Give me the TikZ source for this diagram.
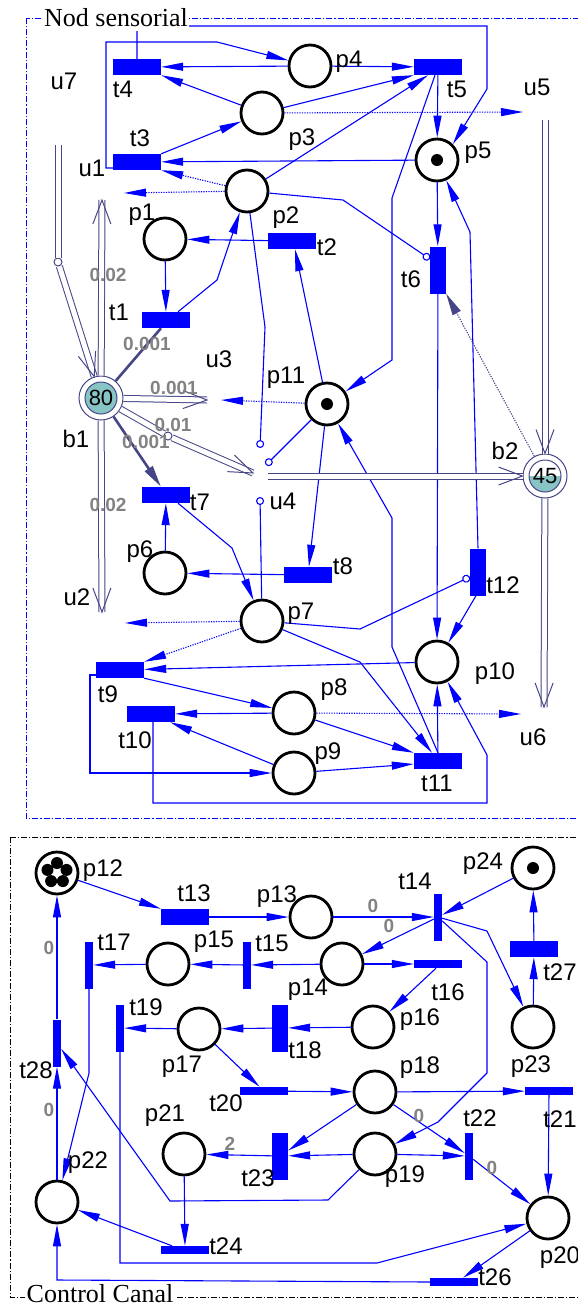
\documentclass[tikz,border=0pt]{standalone}
\usepackage{fontspec}
\setmainfont{Liberation Serif}
\setsansfont{Liberation Sans}
\usepackage{xcolor}
\usetikzlibrary{arrows.meta,calc,positioning,decorations.markings}

\definecolor{slate}{RGB}{70,70,135}
\definecolor{level}{RGB}{136,196,196}
\definecolor{wgray}{RGB}{130,130,130}

\newcommand{\lblfont}{\sffamily\fontsize{24}{24}\selectfont}
\newcommand{\wfont}{\sffamily\bfseries\fontsize{19}{19}\selectfont}
\newcommand{\titlefont}{\rmfamily\fontsize{26}{26}\selectfont}

\tikzset{
  place/.style={circle, draw=black, line width=2.8pt, minimum size=42pt, inner sep=0pt},
  token/.style={circle, fill=black, minimum size=12pt, inner sep=0pt},
  trh/.style={rectangle, fill=blue, minimum width=48pt, minimum height=16pt, inner sep=0pt},
  trv/.style={rectangle, fill=blue, minimum width=16pt, minimum height=47pt, inner sep=0pt},
  trhs/.style={rectangle, fill=blue, minimum width=48pt, minimum height=8pt, inner sep=0pt},
  trvs/.style={rectangle, fill=blue, minimum width=8pt, minimum height=47pt, inner sep=0pt},
  lbl/.style={font=\lblfont, inner sep=0pt},
  wgt/.style={font=\wfont, text=wgray, inner sep=0pt},
  parc/.style={blue, line width=1.1pt, -{Triangle[length=22pt, width=8pt]}},
  dots/.style={parc, dash pattern=on 1.2pt off 1.3pt},
  inh/.style={blue, line width=1.1pt, -{Circle[open, length=8pt, width=8pt, fill=white]}},
  flow/.style={slate, line width=2.6pt},
  cont/.style={draw=slate, double=white, double distance=5pt, line width=1pt},
  barb/.style={cont, postaction={decorate, decoration={markings,
      mark=at position 1 with {\draw[slate, line width=1pt] (-24pt,9pt) -- (0pt,0pt) -- (-24pt,-9pt);}}}},
  kink/.style={circle, draw=slate, fill=white, line width=1pt, minimum size=8pt, inner sep=0pt},
  buf/.style={circle, draw=slate, line width=1pt, minimum size=44pt, inner sep=0pt,
      font=\sffamily\fontsize{22}{22}\selectfont},
  fullbuf/.style={path picture={\draw[slate, line width=1pt, fill=level]
      (path picture bounding box.center) circle (16pt);}},
  halfbuf/.style={path picture={
      \begin{scope}
        \clip (path picture bounding box.center) circle (16pt);
        \fill[level] ([xshift=-17pt]path picture bounding box.center) rectangle
          ([shift={(17pt,-17pt)}]path picture bounding box.center);
      \end{scope}
      \draw[slate, line width=1pt] (path picture bounding box.center) circle (16pt);}},
  boxline/.style={line width=1pt, dash pattern=on 6pt off 2pt on 1.2pt off 2pt},
  boxtitle/.style={fill=white, inner xsep=1.5pt, inner ysep=4pt, font=\titlefont},
}

\begin{document}
\begin{tikzpicture}[x=1pt, y=-1pt]
\useasboundingbox (0,0) rectangle (578,1307);

% frames
\draw[boxline, blue] (26,18) rectangle (600,818);
\draw[boxline, black] (10,837) rectangle (600,1297);

% sensor node: places
\node[place] (p4) at (310,66) {};
\node[place] (p3) at (262,113) {};
\node[place] (p2) at (247,191) {};
\node[place] (p1) at (165,239) {};
\node[place] (p5) at (437,160) {};
\node[place] (p11) at (327,404) {};
\node[place] (p6) at (165,573) {};
\node[place] (p7) at (262,621) {};
\node[place] (p10) at (437,662) {};
\node[place] (p8) at (294,713) {};
\node[place] (p9) at (294,773) {};
\node[token] (p5t) at (p5) {};
\node[token] (p11t) at (p11) {};

% sensor node: transitions
\node[trh] (t4) at (137,67) {};
\node[trh] (t3) at (137,162) {};
\node[trh] (t5) at (438,67) {};
\node[trh] (t2) at (292,241) {};
\node[trh] (t1) at (166,320) {};
\node[trv] (t6) at (438,270) {};
\node[trh] (t7) at (166,495) {};
\node[trh] (t8) at (308,575) {};
\node[trv] (t12) at (478,572) {};
\node[trh] (t9) at (120,670) {};
\node[trh] (t10) at (151,714) {};
\node[trh] (t11) at (438,761) {};

% continuous places
\node[buf, fullbuf] (b1) at (101,398) {80};
\node[buf, halfbuf] (b2) at (545,476) {45};

% free ends
\coordinate (u1in) at (124,193);
\coordinate (u5in) at (523,112);
\coordinate (u3in) at (221,400);
\coordinate (u2in) at (125,623);
\coordinate (u6in) at (521,714);
\coordinate (u4a) at (260,448);
\coordinate (u4b) at (266,465);
\coordinate (u4c) at (260,497);
\coordinate (u7o) at (58,145);
\coordinate (b1up) at (102,200);
\coordinate (b1dn) at (102,612);
\coordinate (u3o) at (207,400);
\coordinate (u4in) at (253,473);
\coordinate (u4o) at (268,476);
\coordinate (u5o) at (545,120);
\coordinate (b2dn) at (544,707);
\node[kink] (u7k) at (58,262) {};
\node[kink] (u4k) at (168,436) {};

% sensor node: arcs
\draw[parc] (t4.north) -- (137,26) -- (487,26) -- (487,89) -- (p5.north east);
\draw[parc] (p4) -- (t4);
\draw[parc] ([yshift=-6pt]t3.west) -- (106,168) -- (106,42) -- (217,42) -- (p4);
\draw[parc] (p3) -- (t4.south east);
\draw[parc] (t3.north east) -- (p3);
\draw[parc] (p5) -- (t3);
\draw[dots] (p2) -- (t3.south east);
\draw[dots] (p2) -- (u1in);
\draw[parc] (p4) -- (t5);
\draw[parc] (p3) -- (t5.south west);
\draw[parc] (p2) -- ([xshift=-10pt]t5.south);
\draw[dots] (p3) -- (u5in);
\draw[parc] (t5) -- (p5);
\draw[parc] ([xshift=-3pt]t5.south) -- (392,198) -- (392,360) -- (p11);
\draw[inh] (p2) -- (343,200) -- ([yshift=11pt]t6.west);
\draw[parc] (p5) -- (t6);
\draw[parc] (t12.north) -- (470,232) -- (p5);
\draw[parc] (t6) -- (p10);
\draw[parc] (t2) -- (p1);
\draw[parc] (p1) -- (t1);
\draw[parc] ([xshift=12pt]t1.north) -- (217,280) -- (p2);
\draw[inh] (p2) -- (265,327) -- (u4a);
\draw[parc] (p11) -- ([xshift=3pt]t2.south);
\draw[dots] (p11) -- (u3in);
\draw[inh] (p11) -- (u4b);
\draw[parc] (p11) -- (t8);
\draw[parc] (t11.north) -- (392,647) -- (392,518) -- (p11);
\draw[parc] ([xshift=12pt]t7.south) -- (232,548) -- (p7);
\draw[parc] (p6) -- (t7);
\draw[parc] (t8) -- (p6);
\draw[inh] (p7) -- (u4c);
\draw[inh] (p7) -- (360,629) -- ([yshift=-5pt]t12.west);
\draw[parc] ([xshift=-2pt]t12.south) -- (p10);
\draw[dots] (p7) -- (u2in);
\draw[dots] (p7) -- (t9.north east);
\draw[parc] (p10) -- (t9);
\draw[parc] (t9.south east) -- (p8);
\draw[parc] (p8) -- (t10);
\draw[parc] (p9) -- ([xshift=-5pt]t10.south east);
\draw[parc] ([yshift=-5pt]t9.west) -- (90,675) -- (90,773) -- (p9);
\draw[parc] ([xshift=2pt]t10.south) -- (153,803) -- (487,803) -- (487,755) -- (p10);
\draw[parc] (p8) -- (t11.north west);
\draw[parc] (p9) -- ([yshift=-3pt]t11.west);
\draw[parc] (p7) -- (360,662) -- ([xshift=-6pt]t11.north);
\draw[parc] (t11) -- (p10);
\draw[dots] (p8) -- (u6in);

% continuous arcs
\draw[cont] (u7o) -- (u7k);
\draw[barb] (u7k) -- (b1);
\draw[barb] (b1) -- (b1up);
\draw[barb] (b1) -- (b1dn);
\draw[barb] (b1) -- (u3o);
\draw[cont] (b1) -- (u4k);
\draw[barb] (u4k) -- (u4in);
\draw[barb] (u4o) -- (b2);
\draw[barb] (u5o) -- (b2);
\draw[barb] (b2) -- (b2dn);
\draw[flow] (b1) -- ([xshift=-5pt]t1.south);
\draw[flow, -{Triangle[length=22pt, width=9pt]}] (b1) -- ([xshift=-5pt]t7.north);
\draw[slate, line width=1.1pt, dash pattern=on 1.2pt off 1.3pt, -{Triangle[length=22pt, width=9pt]}] (b2) -- (t6.south east);

% sensor node: labels
\node[lbl] (lp1) at (142,215) {p1};
\node[lbl] (lp2) at (286,218) {p2};
\node[lbl] (lp3) at (302,140) {p3};
\node[lbl] (lp4) at (349,62) {p4};
\node[lbl] (lp5) at (478,153) {p5};
\node[lbl] (lp6) at (140,552) {p6};
\node[lbl] (lp7) at (301,614) {p7};
\node[lbl] (lp8) at (334,690) {p8};
\node[lbl] (lp9) at (328,754) {p9};
\node[lbl] (lp10) at (495,674) {p10};
\node[lbl] (lp11) at (286,378) {p11};
\node[lbl] (lt1) at (119,312) {t1};
\node[lbl] (lt2) at (327,247) {t2};
\node[lbl] (lt3) at (140,138) {t3};
\node[lbl] (lt4) at (123,89) {t4};
\node[lbl] (lt5) at (457,89) {t5};
\node[lbl] (lt6) at (411,279) {t6};
\node[lbl] (lt7) at (200,502) {t7};
\node[lbl] (lt8) at (343,566) {t8};
\node[lbl] (lt9) at (108,694) {t9};
\node[lbl] (lt10) at (135,740) {t10};
\node[lbl] (lt11) at (437,783) {t11};
\node[lbl] (lt12) at (503,585) {t12};
\node[lbl] (lu1) at (92,168) {u1};
\node[lbl] (lu2) at (77,597) {u2};
\node[lbl] (lu3) at (219,359) {u3};
\node[lbl] (lu4) at (283,501) {u4};
\node[lbl] (lu5) at (537,87) {u5};
\node[lbl] (lu6) at (533,737) {u6};
\node[lbl] (lu7) at (64,81) {u7};
\node[lbl] (lb1) at (76,439) {b1};
\node[lbl] (lb2) at (505,451) {b2};
\node[wgt] (w1) at (108,275) {0.02};
\node[wgt] (w2) at (147,344) {0.001};
\node[wgt] (w3) at (174,388) {0.001};
\node[wgt] (w4) at (173,425) {0.01};
\node[wgt] (w5) at (146,442) {0.001};
\node[wgt] (w6) at (108,505) {0.02};

% channel control: places
\node[place] (p12) at (57,873) {};
\node[place] (p13) at (311,917) {};
\node[place] (p24) at (533,868) {};
\node[place] (p15) at (168,964) {};
\node[place] (p14) at (342,964) {};
\node[place] (p16) at (373,1027) {};
\node[place] (p17) at (199,1029) {};
\node[place] (p23) at (533,1027) {};
\node[place] (p18) at (375,1092) {};
\node[place] (p19) at (375,1154) {};
\node[place] (p21) at (184,1154) {};
\node[place] (p22) at (57,1202) {};
\node[place] (p20) at (548,1218) {};
\node[token] (p24t) at (p24) {};
\foreach \a [count=\i] in {90,162,234,306,18}
  \node[token] (p12t\i) at ([shift={(\a:10pt)}]p12.center) {};

% channel control: transitions
\node[trh] (t13) at (185,917) {};
\node[trvs] (t14) at (438,917) {};
\node[trvs] (t17) at (89,965) {};
\node[trvs] (t15) at (247,965) {};
\node[trhs] (t16) at (438,964) {};
\node[trh] (t27) at (534,949) {};
\node[trvs] (t19) at (120,1028) {};
\node[trv] (t18) at (280,1028) {};
\node[trvs] (t28) at (57,1043) {};
\node[trhs] (t20) at (264,1091) {};
\node[trhs] (t21) at (549,1091) {};
\node[trv] (t23) at (280,1156) {};
\node[trvs] (t22) at (469,1156) {};
\node[trhs] (t24) at (185,1250) {};
\node[trhs] (t26) at (454,1282) {};

% channel control: arcs
\draw[parc] (p12) -- (t13.north west);
\draw[parc] (t13) -- (p13);
\draw[parc] (p13) -- (t14);
\draw[parc] (t14) -- (p14);
\draw[parc] (p24) -- (t14);
\draw[parc] (p14) -- (t15);
\draw[parc] (t15) -- (p15);
\draw[parc] (p15) -- (t17);
\draw[parc] (p14) -- (t16);
\draw[parc] ([xshift=-2pt]t16.south) -- (p16);
\draw[parc] (p16) -- (t18);
\draw[parc] (t18) -- (p17);
\draw[parc] (p17) -- (t19);
\draw[parc] (t14) -- (487,931) -- (p23);
\draw[parc] (t14) -- (487,962) -- (487,1073) -- (438,1122) -- (p19);
\draw[parc] (p23) -- (t27);
\draw[parc] (t27) -- (p24);
\draw[parc] (t28) -- (p12);
\draw[parc] (p22) -- (t28);
\draw[parc] (p19) -- (328,1200) -- (170,1201) -- (t28);
\draw[parc] (t17) -- (89,1073) -- (p22);
\draw[parc] (t19) -- (120,1263) -- (377,1263) -- (p20);
\draw[parc] (p17) -- (t20);
\draw[parc] (t20) -- (p18);
\draw[parc] (p18) -- (t21);
\draw[parc] (t21) -- (p20);
\draw[parc] (p18) -- (t23);
\draw[parc] (p19) -- (t23);
\draw[parc] (t23) -- (p21);
\draw[parc] (p21) -- (t24);
\draw[parc] ([xshift=-13pt]t24.north) -- (p22);
\draw[parc] (p18) -- (t22);
\draw[parc] (p19) -- (t22);
\draw[parc] (t22) -- (p20);
\draw[parc] (p20) -- ([xshift=9pt]t26.north);
\draw[parc] (t26.west) -- (57,1280) -- (p22);

% channel control: labels
\node[lbl] (lp12) at (103,871) {p12};
\node[lbl] (lp13) at (277,897) {p13};
\node[lbl] (lp14) at (308,990) {p14};
\node[lbl] (lp15) at (214,942) {p15};
\node[lbl] (lp16) at (420,1020) {p16};
\node[lbl] (lp17) at (182,1067) {p17};
\node[lbl] (lp18) at (420,1068) {p18};
\node[lbl] (lp19) at (405,1177) {p19};
\node[lbl] (lp20) at (560,1258) {p20};
\node[lbl] (lp21) at (165,1116) {p21};
\node[lbl] (lp22) at (88,1163) {p22};
\node[lbl] (lp23) at (531,1067) {p23};
\node[lbl] (lp24) at (483,864) {p24};
\node[lbl] (lt13) at (194,893) {t13};
\node[lbl] (lt14) at (415,881) {t14};
\node[lbl] (lt15) at (272,943) {t15};
\node[lbl] (lt16) at (448,992) {t16};
\node[lbl] (lt17) at (114,942) {t17};
\node[lbl] (lt18) at (305,1050) {t18};
\node[lbl] (lt19) at (146,1007) {t19};
\node[lbl] (lt20) at (226,1103) {t20};
\node[lbl] (lt21) at (560,1119) {t21};
\node[lbl] (lt22) at (480,1118) {t22};
\node[lbl] (lt23) at (258,1178) {t23};
\node[lbl] (lt24) at (226,1246) {t24};
\node[lbl] (lt26) at (495,1277) {t26};
\node[lbl] (lt27) at (560,972) {t27};
\node[lbl] (lt28) at (36,1070) {t28};
\node[wgt] (w7) at (49,948) {0};
\node[wgt] (w8) at (373,906) {0};
\node[wgt] (w9) at (389,926) {0};
\node[wgt] (w10) at (49,1110) {0};
\node[wgt] (w11) at (230,1144) {2};
\node[wgt] (w12) at (419,1116) {0};
\node[wgt] (w13) at (492,1168) {0};

% frame titles
\node[boxtitle] (nod) at (116,18) {Nod sensorial};
\node[boxtitle, inner ysep=3pt] (canal) at (100,1294) {Control Canal};
\end{tikzpicture}
\end{document}
